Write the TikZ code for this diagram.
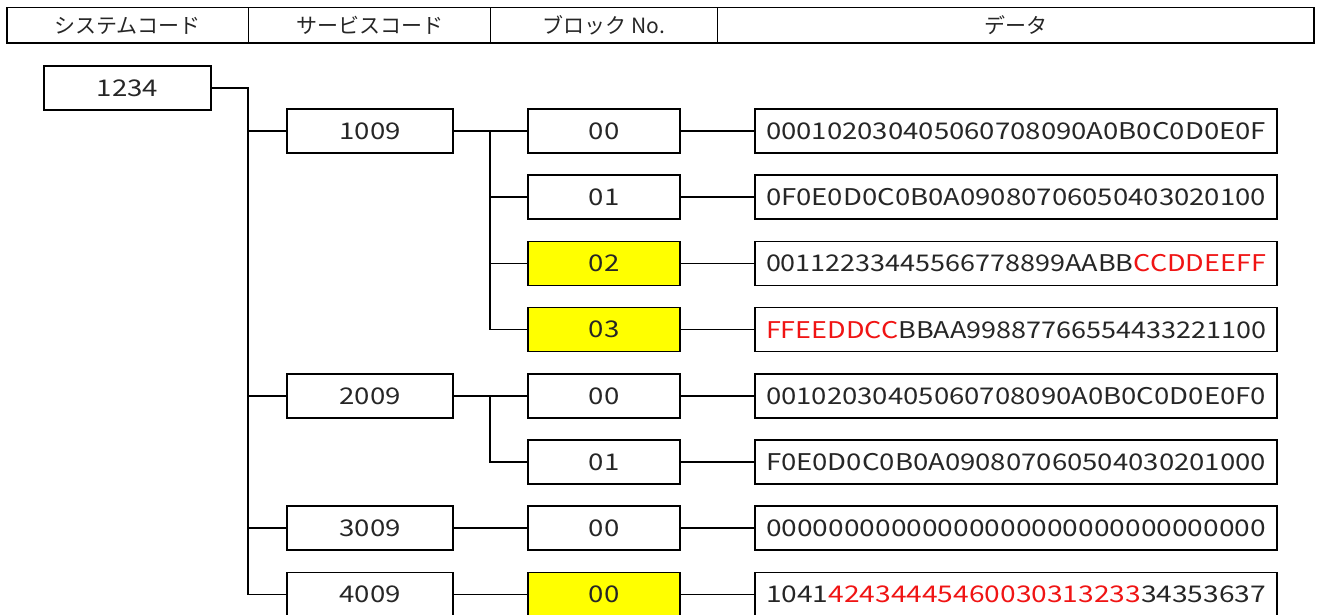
\documentclass[tikz,border=0pt]{standalone}
\usepackage{fontspec}
\usepackage{graphicx}
\setmainfont{Noto Sans CJK JP}
\definecolor{hl}{RGB}{255,255,0}
\definecolor{rd}{RGB}{240,20,20}
\newcommand{\wdx}[1]{\scalebox{1.2}[1]{#1}}
\newcommand{\dtx}[1]{\resizebox{500pt}{\height}{#1}}
\newcommand{\rtx}[1]{\textcolor{rd}{#1}}
\tikzset{
  box/.style={draw=black, line width=1.6pt, fill=white, minimum height=44pt, inner sep=0pt,
     font=\fontsize{23}{25}\selectfont, text=black!85},
  sysbox/.style={box, minimum width=167pt},
  svcbox/.style={box, minimum width=166pt},
  blkbox/.style={box, minimum width=152pt},
  blkhl/.style={blkbox, fill=hl},
  databox/.style={box, minimum width=522pt},
  conn/.style={line width=1.6pt, draw=black},
  hdr/.style={font=\fontsize{21}{23}\selectfont, text=black!85, inner sep=0pt}
}
\begin{document}
\begin{tikzpicture}[x=1pt,y=-1pt]
\useasboundingbox (0,0) rectangle (1319,614);
\clip (0,0) rectangle (1319,614);
% header
\draw[line width=1.6pt] (7,7.5) rectangle (1314,43);
\draw[line width=1.6pt] (248.5,7.5) -- (248.5,43);
\draw[line width=1.6pt] (490.5,7.5) -- (490.5,43);
\draw[line width=1.6pt] (717.5,7.5) -- (717.5,43);
\node[hdr] (h1) at (127.7,25.5) {システムコード};
\node[hdr] (h2) at (369.5,25.5) {サービスコード};
\node[hdr] (h3) at (604,25.5) {ブロック No.};
\node[hdr] (h4) at (1015.7,25.5) {データ};

% system
\node[sysbox] (sys) at (127.5,88) {\wdx{1234}};

% services
\node[svcbox] (s1) at (370,131) {\wdx{1009}};
\node[svcbox] (s2) at (370,395.8) {\wdx{2009}};
\node[svcbox] (s3) at (370,528.2) {\wdx{3009}};
\node[svcbox] (s4) at (370,594.4) {\wdx{4009}};

% blocks
\node[blkbox] (b1) at (604,131) {\wdx{00}};
\node[blkbox] (b2) at (604,197.2) {\wdx{01}};
\node[blkhl] (b3) at (604,263.4) {\wdx{02}};
\node[blkhl] (b4) at (604,329.6) {\wdx{03}};
\node[blkbox] (b5) at (604,395.8) {\wdx{00}};
\node[blkbox] (b6) at (604,462) {\wdx{01}};
\node[blkbox] (b7) at (604,528.2) {\wdx{00}};
\node[blkhl] (b8) at (604,594.4) {\wdx{00}};

% data
\node[databox] (d1) at (1016,131) {\dtx{000102030405060708090A0B0C0D0E0F}};
\node[databox] (d2) at (1016,197.2) {\dtx{0F0E0D0C0B0A09080706050403020100}};
\node[databox] (d3) at (1016,263.4) {\dtx{00112233445566778899AABB\rtx{CCDDEEFF}}};
\node[databox] (d4) at (1016,329.6) {\dtx{\rtx{FFEEDDCC}BBAA99887766554433221100}};
\node[databox] (d5) at (1016,395.8) {\dtx{00102030405060708090A0B0C0D0E0F0}};
\node[databox] (d6) at (1016,462) {\dtx{F0E0D0C0B0A090807060504030201000}};
\node[databox] (d7) at (1016,528.2) {\dtx{00000000000000000000000000000000}};
\node[databox] (d8) at (1016,594.4) {\dtx{1041\rtx{42434445460030313233}34353637}};

% trunk coordinates
\coordinate (t0) at (248,88);
\coordinate (t1) at (490,131);
\coordinate (t2) at (490,395.8);

% system -> services
\draw[conn] (sys.east) -- (t0) |- (s4.west);
\draw[conn] (t0 |- s1.west) -- (s1.west);
\draw[conn] (t0 |- s2.west) -- (s2.west);
\draw[conn] (t0 |- s3.west) -- (s3.west);

% services -> blocks
\draw[conn] (s1.east) -- (b1.west);
\draw[conn] (t1) |- (b4.west);
\draw[conn] (t1 |- b2.west) -- (b2.west);
\draw[conn] (t1 |- b3.west) -- (b3.west);
\draw[conn] (s2.east) -- (b5.west);
\draw[conn] (t2) |- (b6.west);
\draw[conn] (s3.east) -- (b7.west);
\draw[conn] (s4.east) -- (b8.west);

% blocks -> data
\foreach \i in {1,...,8} { \draw[conn] (b\i.east) -- (d\i.west); }
\end{tikzpicture}
\end{document}
